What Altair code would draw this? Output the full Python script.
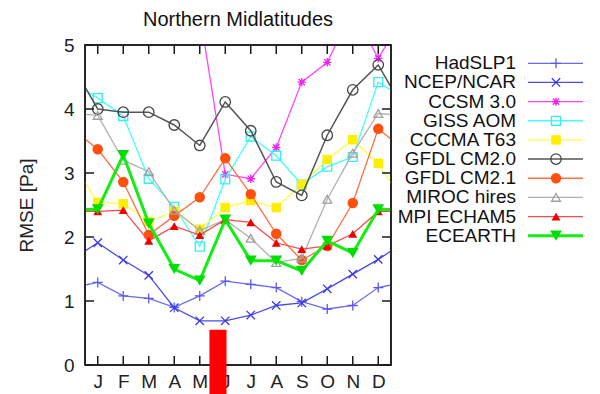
import altair as alt
import pandas as pd

months = ["J", "F", "M", "A", "M", "J", "J", "A", "S", "O", "N", "D"]
month_idx = list(range(1, 13))
y_ticks = [0, 1, 2, 3, 4, 5]

series_names = ["HadSLP1", "NCEP/NCAR", "CCSM 3.0", "GISS AOM", "CCCMA T63",
                "GFDL CM2.0", "GFDL CM2.1", "MIROC hires", "MPI ECHAM5", "ECEARTH"]

had = [1.29, 1.08, 1.04, 0.90, 1.08, 1.31, 1.26, 1.21, 0.99, 0.875, 0.93, 1.21]
ncep = [1.91, 1.64, 1.40, 0.895, 0.69, 0.69, 0.78, 0.93, 0.97, 1.19, 1.42, 1.65]
ccsm = [5.45, 5.8, 5.9, 5.7, 5.5, 2.98, 2.91, 3.40, 4.42, 4.73, 5.55, 4.79]
giss = [4.17, 3.89, 2.91, 2.47, 1.85, 2.90, 3.57, 3.27, 2.82, 3.10, 3.25, 4.42]
cccma = [2.54, 2.52, 2.24, 2.40, 2.12, 2.46, 2.57, 2.46, 2.82, 3.21, 3.52, 3.15]
gfdl20 = [4.00, 3.95, 3.95, 3.75, 3.43, 4.11, 3.66, 2.86, 2.65, 3.59, 4.30, 4.69]
gfdl21 = [3.37, 2.86, 2.03, 2.33, 2.62, 3.23, 2.67, 2.05, 1.64, 1.86, 2.53, 3.69]
miroc = [3.90, 3.20, 3.02, 2.42, 2.10, 2.27, 1.98, 1.60, 1.67, 2.59, 3.31, 3.93]
mpi = [2.40, 2.42, 1.94, 2.17, 2.03, 2.27, 2.23, 1.91, 1.81, 1.86, 2.05, 2.40]
ecearth = [2.43, 3.28, 2.21, 1.50, 1.32, 2.27, 1.63, 1.63, 1.47, 1.94, 1.75, 2.43]

all_values = [had, ncep, ccsm, giss, cccma, gfdl20, gfdl21, miroc, mpi, ecearth]

# axis ranges
x_range = [0.5, 12.5]
y_range = [0, 5]

# red marker bar (month position range and value range)
bar_x_start = [5.38]
bar_x_end = [6.05]
bar_top = [0.55]
bar_bottom = [-0.55]

PLUS = "M-1,0L1,0M0,-1L0,1"
CROSS = "M-1,-1L1,1M-1,1L1,-1"
STAR = "M-1,0L1,0M0,-1L0,1M-0.75,-0.75L0.75,0.75M-0.75,0.75L0.75,-0.75"

styles = {
    "HadSLP1":     dict(line="#6a6af2", mark="#5a5aee", shape=PLUS, filled=False, size=100, lw=1.3),
    "NCEP/NCAR":   dict(line="#4a4ae8", mark="#3a3ae0", shape=CROSS, filled=False, size=70, lw=1.3),
    "CCSM 3.0":    dict(line="#ff44ff", mark="#ee22ee", shape=STAR, filled=False, size=70, lw=1.3),
    "GISS AOM":    dict(line="#44ffff", mark="#33eeee", shape="square", filled=False, size=80, lw=1.3),
    "CCCMA T63":   dict(line="#ffff44", mark="#ffee00", shape="square", filled=True, size=90, lw=1.3),
    "GFDL CM2.0":  dict(line="#555555", mark="#444444", shape="circle", filled=False, size=110, lw=1.5),
    "GFDL CM2.1":  dict(line="#ff7040", mark="#ff5010", shape="circle", filled=True, size=110, lw=1.3),
    "MIROC hires": dict(line="#b0b0b0", mark="#a0a0a0", shape="triangle-up", filled=False, size=80, lw=1.3),
    "MPI ECHAM5":  dict(line="#ff4a4a", mark="#ee0000", shape="triangle-up", filled=True, size=80, lw=1.3),
    "ECEARTH":     dict(line="#11ee11", mark="#00dd00", shape="triangle-down", filled=True, size=140, lw=3),
}

rows = []
for name, vals in zip(series_names, all_values):
    # cyclic extension: December before January, January after December
    ext = [vals[-1]] + vals + [vals[0]]
    for m, v in zip(range(0, 14), ext):
        rows.append({"series": name, "month": m, "value": v})
df = pd.DataFrame(rows)

FONT = "Liberation Sans"
FS = 19
W, H = 306, 320
INK = "#1a1a1a"

xscale = alt.Scale(domain=x_range, nice=False, zero=False)
yscale = alt.Scale(domain=y_range, nice=False)


def X(field):
    return alt.X(field, scale=xscale, axis=None)


def Y(field):
    return alt.Y(field, scale=yscale, axis=None)


label_expr = "['J','F','M','A','M','J','J','A','S','O','N','D'][datum.value - 1]"

base = alt.Chart(df)
layers = []

axis_layer = alt.Chart(pd.DataFrame({"month": month_idx, "value": [0] * 12})).mark_point(opacity=0).encode(
    x=alt.X("month:Q", scale=xscale,
            axis=alt.Axis(values=month_idx, labelExpr=label_expr, ticks=False, domain=False, grid=False,
                          labelOverlap=False, labelSeparation=0, labelBound=False, labelFlush=False,
                          labelFontSize=FS, labelFont=FONT, labelColor="#222222",
                          labelPadding=7, title=None)),
    y=alt.Y("value:Q", scale=yscale,
            axis=alt.Axis(values=y_ticks, format="d", ticks=False, domain=False, grid=False,
                          labelOverlap=False, labelFontSize=FS,
                          labelFont=FONT, labelColor="#222222", labelPadding=11, title="RMSE [Pa]",
                          titleFontSize=FS, titleFont=FONT, titleFontWeight="normal", titleColor="#222222",
                          titlePadding=27)),
)
layers.append(axis_layer)

for name in series_names:
    st = styles[name]
    sub = base.transform_filter(alt.datum.series == name)
    line = sub.mark_line(color=st["line"], strokeWidth=st["lw"], clip=True).encode(
        x=X("month:Q"), y=Y("value:Q"))
    if st["filled"]:
        pt = sub.mark_point(shape=st["shape"], size=st["size"], filled=True, color=st["mark"],
                            opacity=1, clip=True)
    else:
        pt = sub.mark_point(shape=st["shape"], size=st["size"], filled=False, color=st["mark"],
                            strokeWidth=1.3, opacity=1, clip=True)
    pt = pt.encode(x=X("month:Q"), y=Y("value:Q")).transform_filter(
        (alt.datum.month >= 1) & (alt.datum.month <= 12))
    layers.append(line)
    layers.append(pt)

# frame and inward ticks, drawn as line segments in data space
TL = 9
tlx = TL * (x_range[1] - x_range[0]) / W
tly = TL * (y_range[1] - y_range[0]) / H
seg = []
corners = [(x_range[0], y_range[0]), (x_range[1], y_range[0]), (x_range[1], y_range[1]),
           (x_range[0], y_range[1]), (x_range[0], y_range[0])]
for i, (cx, cy) in enumerate(corners):
    seg.append({"id": "frame", "o": i, "x": cx, "y": cy})
for t in y_ticks:
    seg += [{"id": f"l{t}", "o": 0, "x": x_range[0], "y": t}, {"id": f"l{t}", "o": 1, "x": x_range[0] + tlx, "y": t},
            {"id": f"r{t}", "o": 0, "x": x_range[1] - tlx, "y": t}, {"id": f"r{t}", "o": 1, "x": x_range[1], "y": t}]
for m in month_idx:
    seg += [{"id": f"b{m}", "o": 0, "x": m, "y": y_range[0]}, {"id": f"b{m}", "o": 1, "x": m, "y": y_range[0] + tly},
            {"id": f"t{m}", "o": 0, "x": m, "y": y_range[1] - tly}, {"id": f"t{m}", "o": 1, "x": m, "y": y_range[1]}]
seg_df = pd.DataFrame(seg)
frame = alt.Chart(seg_df).mark_line(color=INK, strokeWidth=1.5, clip=False).encode(
    x=X("x:Q"), y=Y("y:Q"), detail="id:N", order="o:Q")
layers.append(frame)

bar = alt.Chart(pd.DataFrame({"x": bar_x_start, "x2": bar_x_end, "y": bar_top, "y2": bar_bottom})).mark_rect(
    color="#ff0000", clip=False).encode(
    x=X("x:Q"), x2="x2:Q", y=Y("y:Q"), y2="y2:Q")
layers.append(bar)

# custom legend to the right of the plot: labels on the left, line + marker on the right
leg_df = pd.DataFrame({"series": series_names})
leg_y = alt.Y("series:N", sort=series_names, axis=None,
              scale=alt.Scale(type="point", domain=series_names, range=[18.3, 190.7], padding=0))
leg_text = alt.Chart(leg_df).mark_text(align="right", baseline="middle", fontSize=FS, font=FONT,
                                       color="#111111").encode(
    y=leg_y, x=alt.value(W + 125), text="series:N")
layers.append(leg_text)
for name in series_names:
    st = styles[name]
    sub = alt.Chart(leg_df).transform_filter(alt.datum.series == name)
    layers.append(sub.mark_rule(color=st["line"], strokeWidth=st["lw"]).encode(
        y=leg_y, x=alt.value(W + 137), x2=alt.value(W + 192)))
    if st["filled"]:
        p = sub.mark_point(shape=st["shape"], size=st["size"], filled=True, color=st["mark"], opacity=1)
    else:
        p = sub.mark_point(shape=st["shape"], size=st["size"], filled=False, color=st["mark"],
                           strokeWidth=1.3, opacity=1)
    layers.append(p.encode(y=leg_y, x=alt.value(W + 165)))

chart = alt.layer(*layers).resolve_scale(x="independent", y="independent").properties(
    width=W, height=H,
    title=alt.Title("Northern Midlatitudes", fontSize=20, font=FONT, fontWeight="normal",
                    anchor="middle", color="#111111", offset=6),
    padding={"left": 9, "top": 2, "right": 0, "bottom": 0}, background="white",
).configure_view(stroke=INK, strokeWidth=1.5)

chart.save("out.html", embed_options={"renderer": "svg", "actions": False})
